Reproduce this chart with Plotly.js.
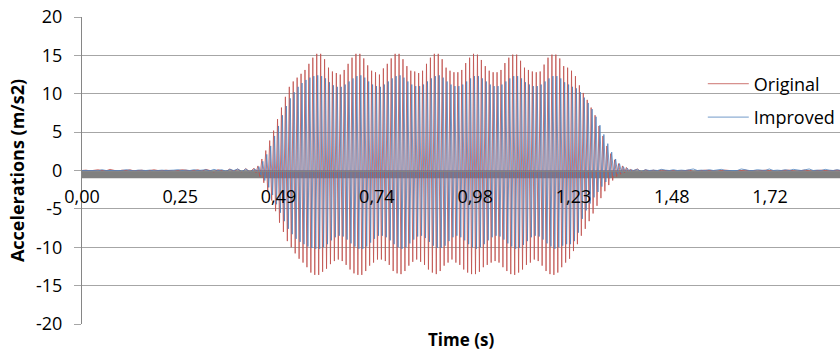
<!DOCTYPE html>
<html>
<head>
<meta charset="utf-8">
<script src="https://cdn.plot.ly/plotly-3.0.1.min.js"></script>
<style>
html,body{margin:0;padding:0;background:#fff;}
#chart{width:840px;height:353px;}
</style>
</head>
<body>
<div id="chart"></div>
<script>
// ---- Category tick labels (time, s) ----
const tickTimes = [0, 0.246, 0.492, 0.738, 0.984, 1.23, 1.476, 1.722];
const tickText = ['0,00', '0,25', '0,49', '0,74', '0,98', '1,23', '1,48', '1,72'];
const yTickVals = [-20, -15, -10, -5, 0, 5, 10, 15, 20];
const yTickText = ['-20', '-15', '-10', '-5', '0', '5', '10', '15', '20'];

// ---- Quiet signal before the excitation (one value every 0.01 s from 0.00 s) ----
const originalPre = [
  0.0, 0.05, -0.05, 0.0, 0.1, 0.0, -0.05, 0.15, 0.0, -0.1,
  0.05, 0.0, 0.1, -0.05, 0.0, 0.05, -0.1, 0.0, 0.1, 0.0,
  -0.05, 0.05, 0.0, -0.1, 0.0, 0.1, 0.05, -0.05, 0.0, 0.1,
  -0.1, 0.15, 0.0, -0.2, 0.1, 0.0, -0.15, 0.2, -0.1, 0.2,
  -0.2, 0.25, -0.2];
const improvedPre = [
  0.0, 0.0, 0.05, 0.0, -0.05, 0.1, 0.0, 0.0, 0.05, 0.0,
  0.0, 0.1, 0.0, -0.05, 0.05, 0.0, 0.0, 0.05, -0.05, 0.0,
  0.05, 0.0, 0.0, 0.05, 0.1, 0.0, 0.05, 0.0, 0.1, 0.0,
  0.05, 0.1, -0.05, 0.15, 0.0, 0.1, -0.1, 0.15, 0.0, 0.2,
  -0.15, 0.2, -0.2];

// ---- Oscillation: positive peak and following negative trough of every cycle ----
const originalPeaks = [
  0.3, 0.6, 1.5, 2.6, 3.9, 5.2, 6.7, 8.2, 9.6, 10.9,
  11.6, 12.1, 12.6, 13.1, 13.9, 14.7, 15.2, 15.2, 14.5, 13.4,
  12.9, 12.7, 12.5, 13.1, 13.9, 14.7, 15.2, 15.2, 14.6, 13.7,
  13.0, 12.8, 12.5, 13.3, 13.9, 14.6, 15.2, 15.2, 14.5, 13.6,
  13.0, 12.9, 12.7, 13.0, 13.9, 14.7, 15.2, 15.2, 14.5, 13.4,
  13.0, 12.8, 12.8, 13.1, 14.0, 14.7, 15.2, 15.1, 14.4, 13.6,
  13.0, 12.8, 12.8, 13.1, 14.0, 14.7, 15.1, 15.1, 14.3, 13.4,
  13.1, 12.9, 12.8, 12.9, 13.8, 14.7, 15.1, 15.1, 14.6, 13.6,
  13.4, 13.0, 12.3, 11.1, 10.1, 9.2, 8.2, 7.2, 5.8, 4.5,
  3.2, 2.2, 1.4, 0.9, 0.6, 0.4, 0.2];
const originalTroughs = [
  -0.3, -0.8, -1.6, -2.7, -3.9, -5.3, -6.8, -8.0, -9.2, -10.0,
  -10.8, -11.5, -12.0, -12.6, -13.3, -13.6, -13.6, -13.2, -12.8, -12.2,
  -11.8, -11.6, -11.8, -12.3, -12.9, -13.4, -13.6, -13.6, -13.1, -12.4,
  -12.0, -11.6, -11.6, -11.8, -12.3, -13.1, -13.4, -13.5, -13.1, -12.4,
  -11.9, -11.6, -11.9, -12.3, -12.9, -13.3, -13.5, -13.1, -12.4, -12.0,
  -11.6, -12.0, -12.3, -12.9, -13.3, -13.5, -13.5, -13.2, -12.6, -12.3,
  -12.0, -11.8, -12.0, -12.6, -13.1, -13.5, -13.6, -13.3, -12.9, -12.3,
  -12.0, -11.6, -11.8, -12.4, -13.1, -13.5, -13.6, -13.3, -12.6, -12.0,
  -11.5, -10.5, -9.6, -8.5, -7.6, -6.6, -5.6, -4.6, -3.6, -2.7,
  -1.9, -1.3, -0.8, -0.5, -0.3, -0.2, -0.1];
const improvedPeaks = [
  0.2, 0.5, 1.2, 2.1, 3.2, 4.5, 5.8, 7.2, 8.4, 9.4,
  10.2, 10.9, 11.4, 11.8, 12.1, 12.3, 12.4, 12.3, 12.0, 11.5,
  11.1, 10.9, 10.9, 11.2, 11.6, 12.0, 12.3, 12.4, 12.1, 11.6,
  11.2, 11.0, 10.9, 11.2, 11.6, 12.0, 12.3, 12.4, 12.1, 11.6,
  11.2, 11.0, 11.0, 11.2, 11.6, 12.0, 12.3, 12.4, 12.1, 11.6,
  11.2, 11.0, 11.0, 11.2, 11.6, 12.0, 12.3, 12.3, 12.0, 11.6,
  11.2, 11.0, 11.0, 11.2, 11.6, 12.0, 12.3, 12.3, 12.0, 11.5,
  11.2, 11.0, 11.0, 11.2, 11.6, 12.0, 12.3, 12.3, 12.0, 11.5,
  11.2, 10.9, 10.7, 10.2, 9.5, 8.8, 8.0, 7.0, 5.9, 4.7,
  3.5, 2.4, 1.5, 0.9, 0.5, 0.3, 0.1];
const improvedTroughs = [
  -0.2, -0.6, -1.3, -2.2, -3.2, -4.4, -5.5, -6.6, -7.6, -8.3,
  -8.9, -9.3, -9.6, -9.9, -10.1, -10.2, -10.2, -10.0, -9.6, -9.1,
  -8.7, -8.5, -8.6, -9.0, -9.5, -9.9, -10.2, -10.2, -9.9, -9.4,
  -8.9, -8.5, -8.5, -8.7, -9.1, -9.6, -10.0, -10.2, -10.0, -9.5,
  -9.0, -8.6, -8.5, -8.8, -9.3, -9.8, -10.1, -10.1, -9.8, -9.2,
  -8.7, -8.5, -8.7, -9.1, -9.6, -10.0, -10.2, -10.0, -9.6, -9.1,
  -8.7, -8.5, -8.6, -9.0, -9.5, -9.9, -10.2, -10.1, -9.7, -9.2,
  -8.7, -8.5, -8.6, -9.0, -9.5, -9.9, -10.2, -10.0, -9.8, -9.6,
  -9.6, -9.2, -8.1, -6.3, -5.2, -4.3, -3.5, -2.8, -2.1, -1.5,
  -1.0, -0.7, -0.4, -0.3, -0.2, -0.1, 0.0];

// ---- Quiet signal after the excitation (one value every 0.01 s from 1.39 s) ----
const originalPost = [
  0.2, -0.2, 0.1, -0.1, 0.05, -0.1, 0.05, 0.0, -0.05, 0.0,
  -0.1, -0.05, 0.0, 0.05, -0.15, -0.1, 0.0, 0.05, 0.0, -0.05,
  -0.1, 0.0, 0.05, 0.0, -0.15, -0.05, 0.0, 0.05, -0.05, 0.0,
  -0.1, 0.0, 0.05, 0.0, -0.1, -0.15, 0.0, 0.0, 0.05, -0.05,
  -0.1, 0.0, 0.05, -0.05, -0.1, 0.0, 0.05, 0.0, -0.05, 0.0,
  0.05, -0.05];
const improvedPost = [
  0.15, -0.15, 0.1, 0.0, 0.05, 0.0, 0.15, 0.05, 0.0, 0.1,
  0.0, 0.05, 0.0, 0.1, 0.2, 0.0, 0.05, 0.0, 0.1, 0.0,
  0.05, 0.15, 0.0, 0.0, 0.05, 0.0, 0.2, 0.05, 0.0, 0.0,
  0.1, 0.05, 0.0, 0.2, 0.0, 0.05, 0.0, 0.1, 0.0, 0.15,
  0.05, 0.0, 0.1, 0.2, 0.0, 0.05, 0.0, 0.15, 0.05, 0.0,
  0.1, 0.0];

// ---- Sampling (time grid of the record) ----
const noiseStep = 0.01;      // s between quiet-region samples
const onsetTime = 0.4305;    // s, first cycle
const cyclePeriod = 0.00981; // s per oscillation cycle
const postStart = 1.39;      // s
const improvedLag = 0.00245; // s, phase lag of the improved record

function buildSeries(pre, peaks, troughs, post, lag) {
  const x = [], y = [];
  pre.forEach((v, i) => { x.push(i * noiseStep); y.push(v); });
  peaks.forEach((v, k) => {
    x.push(onsetTime + lag + k * cyclePeriod); y.push(v);
    x.push(onsetTime + lag + (k + 0.5) * cyclePeriod); y.push(troughs[k]);
  });
  post.forEach((v, i) => { x.push(postStart + i * noiseStep); y.push(v); });
  return { x, y };
}

const orig = buildSeries(originalPre, originalPeaks, originalTroughs, originalPost, 0);
const impr = buildSeries(improvedPre, improvedPeaks, improvedTroughs, improvedPost, improvedLag);

const FONT = '"Open Sans", "Liberation Sans", sans-serif';

const traces = [
  { x: orig.x, y: orig.y, type: 'scatter', mode: 'lines', name: 'Original',
    legendgroup: 'o', line: { color: '#C0504D', width: 0.8 } },
  { x: impr.x, y: impr.y, type: 'scatter', mode: 'lines', name: 'Improved',
    legendgroup: 'i', line: { color: '#4F81BD', width: 0.8 } }
];

const layout = {
  width: 840, height: 353,
  margin: { l: 82, r: 0, t: 17, b: 29, pad: 0 },
  paper_bgcolor: '#ffffff', plot_bgcolor: '#ffffff',
  font: { family: FONT, size: 18, color: '#000000' },
  showlegend: true,
  legend: {
    x: 0.819, xanchor: 'left', y: 0.842, yanchor: 'top',
    bgcolor: 'rgba(0,0,0,0)', borderwidth: 0,
    font: { family: FONT, size: 18, color: '#000000' },
    itemwidth: 41, traceorder: 'grouped', tracegroupgap: 7
  },
  xaxis: {
    type: 'linear', range: [0, 1.897],
    anchor: 'free', position: 0.5,
    showline: true, linecolor: '#868686', linewidth: 1,
    showgrid: false, zeroline: false,
    tickmode: 'array', tickvals: tickTimes, ticktext: tickText,
    ticks: '', ticklabelstandoff: 10,
    tickfont: { family: FONT, size: 18, color: '#000000' },
    automargin: false
  },
  yaxis: {
    range: [-20, 20],
    tickmode: 'array', tickvals: yTickVals, ticktext: yTickText,
    showline: true, linecolor: '#868686', linewidth: 1,
    showgrid: true, gridcolor: '#a6a6a6', gridwidth: 1,
    zeroline: false,
    ticks: 'outside', ticklen: 7, tickcolor: '#a6a6a6',
    ticklabelstandoff: 8,
    tickfont: { family: FONT, size: 18, color: '#000000' },
    title: { text: 'Accelerations (m/s2)', standoff: 6,
             font: { family: FONT, size: 18, color: '#000000', weight: 700 } },
    automargin: false
  },
  shapes: [
    { type: 'rect', xref: 'x', yref: 'y', x0: 0, x1: 1.897, y0: 0, y1: -1,
      fillcolor: '#808080', line: { width: 0 }, layer: 'between' }
  ],
  annotations: [
    { text: 'Time (s)', xref: 'paper', yref: 'paper', x: 0.5, y: -0.052,
      xanchor: 'center', yanchor: 'middle', showarrow: false,
      font: { family: FONT, size: 17, color: '#000000', weight: 700 } }
  ]
};

Plotly.newPlot('chart', traces, layout, { displayModeBar: false, staticPlot: true });
</script>
</body>
</html>
